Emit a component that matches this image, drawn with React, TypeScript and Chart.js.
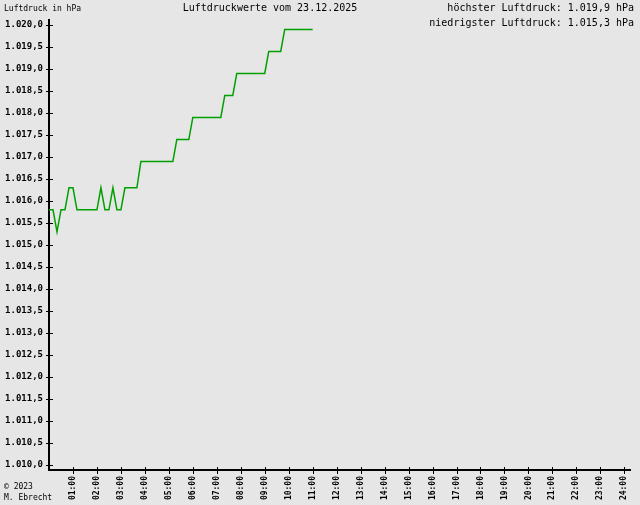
import React, { useEffect, useRef } from "react";
import { Chart, registerables } from "chart.js";

Chart.register(...registerables);

// Measurement times (minutes after midnight, 10-minute steps)
const timesMin: number[] = [
  0, 10, 20, 30, 40, 50, 60, 70, 80, 90, 100, 110, 120, 130, 140, 150, 160, 170,
  180, 190, 200, 210, 220, 230, 240, 250, 260, 270, 280, 290, 300, 310, 320, 330,
  340, 350, 360, 370, 380, 390, 400, 410, 420, 430, 440, 450, 460, 470, 480, 490,
  500, 510, 520, 530, 540, 550, 560, 570, 580, 590, 600, 610, 620, 630, 640, 650, 660,
];

// Air pressure in hPa
const pressure: number[] = [
  1015.8, 1015.8, 1015.3, 1015.8, 1015.8, 1016.3, 1016.3, 1015.8, 1015.8, 1015.8,
  1015.8, 1015.8, 1015.8, 1016.3, 1015.8, 1015.8, 1016.3, 1015.8, 1015.8, 1016.3,
  1016.3, 1016.3, 1016.3,
  1016.9, 1016.9, 1016.9, 1016.9, 1016.9, 1016.9, 1016.9, 1016.9, 1016.9,
  1017.4, 1017.4, 1017.4, 1017.4,
  1017.9, 1017.9, 1017.9, 1017.9, 1017.9, 1017.9, 1017.9, 1017.9,
  1018.4, 1018.4, 1018.4,
  1018.9, 1018.9, 1018.9, 1018.9, 1018.9, 1018.9, 1018.9, 1018.9,
  1019.4, 1019.4, 1019.4, 1019.4,
  1019.9, 1019.9, 1019.9, 1019.9, 1019.9, 1019.9, 1019.9, 1019.9,
];

const xTickHours: number[] = [1, 2, 3, 4, 5, 6, 7, 8, 9, 10, 11, 12, 13, 14, 15, 16, 17, 18, 19, 20, 21, 22, 23, 24];
const xTickLabels: string[] = [
  "01:00", "02:00", "03:00", "04:00", "05:00", "06:00", "07:00", "08:00",
  "09:00", "10:00", "11:00", "12:00", "13:00", "14:00", "15:00", "16:00",
  "17:00", "18:00", "19:00", "20:00", "21:00", "22:00", "23:00", "24:00",
];

const yTickValues: number[] = [
  1010, 1010.5, 1011, 1011.5, 1012, 1012.5, 1013, 1013.5, 1014, 1014.5, 1015,
  1015.5, 1016, 1016.5, 1017, 1017.5, 1018, 1018.5, 1019, 1019.5, 1020,
];
const yTickLabels: string[] = [
  "1.010,0", "1.010,5", "1.011,0", "1.011,5", "1.012,0", "1.012,5", "1.013,0",
  "1.013,5", "1.014,0", "1.014,5", "1.015,0", "1.015,5", "1.016,0", "1.016,5",
  "1.017,0", "1.017,5", "1.018,0", "1.018,5", "1.019,0", "1.019,5", "1.020,0",
];

const titleText = "Luftdruckwerte vom 23.12.2025";
const maxText = "höchster Luftdruck: 1.019,9 hPa";
const minText = "niedrigster Luftdruck: 1.015,3 hPa";
const unitText = "Luftdruck in hPa";
const copyLines: string[] = ["© 2023", "M. Ebrecht"];

const MONO = '"DejaVu Sans Mono"';
const BG = "#e6e6e6";
const LINE = "#00a000";

export default function App() {
  const ref = useRef<HTMLCanvasElement | null>(null);

  useEffect(() => {
    document.body.style.margin = "0";
    const canvas = ref.current;
    if (!canvas) return;

    const bgPlugin = {
      id: "bg",
      beforeDraw(chart: any) {
        const c = chart.ctx;
        c.save();
        c.fillStyle = BG;
        c.fillRect(0, 0, chart.width, chart.height);
        c.restore();
      },
    };

    const decoPlugin = {
      id: "deco",
      afterDraw(chart: any) {
        const c = chart.ctx;
        const xs = chart.scales.x;
        const ys = chart.scales.y;
        const area = chart.chartArea;
        c.save();
        c.strokeStyle = "#000";
        c.lineWidth = 1;
        // crossing tick marks
        ys.ticks.forEach((t: any) => {
          const y = Math.round(ys.getPixelForValue(t.value)) + 0.5;
          c.beginPath();
          c.moveTo(area.left - 3, y);
          c.lineTo(area.left + 4, y);
          c.stroke();
        });
        xs.ticks.forEach((t: any) => {
          const x = Math.round(xs.getPixelForValue(t.value)) + 0.5;
          c.beginPath();
          c.moveTo(x, area.bottom - 3);
          c.lineTo(x, area.bottom + 4);
          c.stroke();
        });
        // texts
        c.fillStyle = "#000";
        c.textBaseline = "middle";
        c.font = `8px ${MONO}`;
        c.textAlign = "left";
        c.fillText(unitText, 4, 9);
        c.fillText(copyLines[0], 4, 487);
        c.fillText(copyLines[1], 4, 498);
        c.font = `10px ${MONO}`;
        c.textAlign = "center";
        c.fillText(titleText, 270, 8);
        c.textAlign = "right";
        c.fillText(maxText, 634, 8);
        c.fillText(minText, 634, 23);
        c.restore();
      },
    };

    const chart = new Chart(canvas, {
      type: "line",
      data: {
        datasets: [
          {
            data: timesMin.map((m, i) => ({ x: m / 60, y: pressure[i] })),
            borderColor: LINE,
            borderWidth: 1.5,
            pointRadius: 0,
            tension: 0,
            fill: false,
          },
        ],
      },
      options: {
        responsive: false,
        animation: false,
        layout: { padding: { top: 20, right: 9, left: 0, bottom: 0 } },
        plugins: {
          legend: { display: false },
          title: { display: false },
          tooltip: { enabled: false },
        },
        scales: {
          x: {
            type: "linear",
            min: 0,
            max: 24.25,
            afterBuildTicks(scale: any) {
              scale.ticks = xTickHours.map((h) => ({ value: h }));
            },
            afterFit(scale: any) {
              scale.height = 35;
            },
            grid: { display: false, drawTicks: false },
            border: { display: true, color: "#000", width: 2 },
            ticks: {
              autoSkip: false,
              minRotation: 90,
              maxRotation: 90,
              padding: 6,
              color: "#000",
              font: { family: "DejaVu Sans Mono", size: 8, weight: "bold" },
              callback: (_v: any, i: number) => xTickLabels[i],
            },
          },
          y: {
            type: "linear",
            min: 1009.886,
            max: 1020.114,
            afterBuildTicks(scale: any) {
              scale.ticks = yTickValues.map((v) => ({ value: v }));
            },
            afterFit(scale: any) {
              scale.width = 49;
            },
            grid: { display: false, drawTicks: false },
            border: { display: true, color: "#000", width: 2 },
            ticks: {
              autoSkip: false,
              padding: 6,
              color: "#000",
              font: { family: "DejaVu Sans Mono", size: 9, weight: "bold" },
              callback: (_v: any, i: number) => yTickLabels[i],
            },
          },
        },
      },
      plugins: [bgPlugin, decoPlugin],
    } as any);

    return () => chart.destroy();
  }, []);

  return (
    <canvas
      ref={ref}
      width={640}
      height={505}
      style={{ display: "block", position: "absolute", left: 0, top: 0 }}
    />
  );
}
